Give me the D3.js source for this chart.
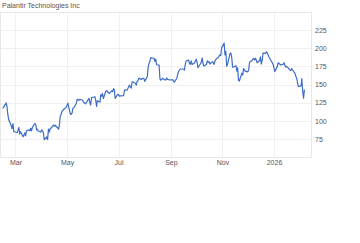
<!DOCTYPE html>
<html>
<head>
<meta charset="utf-8">
<script src="https://cdn.jsdelivr.net/npm/d3@7"></script>
<style>
  body { margin: 0; background: #fff; }
  text { font-family: "Liberation Sans", Arial, sans-serif; }
</style>
</head>
<body>
<svg id="chart"></svg>
<script>
(function() {
  /* Data: daily closes, one row per month */
  var title = "Palantir Technologies Inc";
  var months = ["2025-02", "2025-03", "2025-04", "2025-05", "2025-06", "2025-07",
                "2025-08", "2025-09", "2025-10", "2025-11", "2025-12", "2026-01", "2026-02"];
  var firstDay = { "2025-02": 14 };
  var holidays = ["2025-02-17", "2025-04-18", "2025-05-26", "2025-06-19", "2025-07-04",
                  "2025-09-01", "2025-11-27", "2025-12-25", "2026-01-01", "2026-01-19"];
  var lastDate = "2026-02-06";
  var closes = [
    [117, 124.6, 119, 108, 101.4, 93, 89, 96, 85, 84.8],
    [83.5, 87, 90.9, 81.6, 84.9, 77.8, 80.5, 83.3, 79.2, 86.2, 87.5, 85.9, 89.6, 86.2, 90.9, 96.2, 94.9, 87.4, 88.3, 85.9, 84.4],
    [87.4, 85.9, 83.6, 74, 77.8, 74, 88.6, 84.4, 88.6, 92.6, 93.8, 92.6, 93.8, 88.6, 94.4, 106.6, 108.6, 112.8, 116.9, 117.4, 118.4],
    [121.5, 124.3, 108.9, 108.9, 110.9, 117.4, 117.9, 123.8, 129.6, 128.9, 128.1, 129.5, 128.6, 127, 124.7, 124.6, 123.3, 131, 125.4, 121.6, 131.8],
    [132.7, 133.2, 128, 119.9, 127.7, 125.6, 136.2, 134, 137.4, 130.6, 140.7, 141.4, 140, 137.3, 141.4, 140.2, 144.2, 142.9, 130.7, 136.3],
    [136, 134, 134.4, 134.7, 142.2, 142.9, 142.1, 142.1, 149.2, 146.3, 144.9, 153.5, 153.5, 151.8, 149.1, 154.6, 154.9, 158.8, 157, 158, 158.4, 158.4],
    [154.3, 160.7, 173.3, 179, 181.2, 186.96, 186.2, 186.2, 182, 185, 177.2, 176.7, 157.7, 156, 156.8, 158.7, 156.1, 156.7, 159.1, 156.9, 156.7],
    [156.2, 156.7, 154.9, 153.1, 158.7, 163.6, 168.1, 169.4, 171.4, 171.4, 171, 170, 178, 182.4, 183.6, 178.6, 178, 182.5, 177.6, 179.8, 182.4],
    [184.9, 180.5, 173.1, 178.6, 181.5, 186.6, 178.9, 175.4, 177.5, 182.5, 180.8, 181.6, 178.2, 181.6, 180.3, 177.6, 182.1, 184.6, 187.3, 189.2, 190.8, 189.8, 200.5],
    [207.2, 190.7, 195.6, 175.1, 177.9, 193.2, 193.2, 187, 174, 174, 176, 168.5, 173, 155.7, 154.8, 165.6, 163, 172, 168.5],
    [167.5, 170, 180, 181.8, 181.8, 186, 184, 186, 184, 180, 183, 188, 178, 183, 193.4, 193, 195, 194, 188, 182, 180, 177.75],
    [167.9, 175, 180, 179, 178, 177, 178, 180, 176, 174, 175, 170, 169, 172, 170, 165, 161, 158, 151, 147],
    [148, 158, 140, 131, 143]
  ];
  var yTicks = [75, 100, 125, 150, 175, 200, 225];
  var xTicks = ["2025-03-01", "2025-05-01", "2025-07-01", "2025-09-01", "2025-11-01", "2026-01-01"];
  var xTickLabels = ["Mar", "May", "Jul", "Sep", "Nov", "2026"];

  /* trading days of each month, matched to the closes row */
  var parse = d3.timeParse("%Y-%m-%d");
  var fmt = d3.timeFormat("%Y-%m-%d");
  var points = [];
  months.forEach(function(m, i) {
    var start = parse(m + "-" + (firstDay[m] ? String(firstDay[m]).padStart(2, "0") : "01"));
    var end = d3.timeMonth.offset(d3.timeMonth.floor(start), 1);
    if (end > parse(lastDate)) end = d3.timeDay.offset(parse(lastDate), 1);
    var days = d3.timeDay.range(start, end).filter(function(d) {
      return d.getDay() !== 0 && d.getDay() !== 6 && holidays.indexOf(fmt(d)) < 0;
    });
    closes[i].forEach(function(v, j) {
      if (days[j]) points.push({ date: days[j], value: v });
    });
  });

  /* SVG properties */
  var width = 360, height = 243;
  var plot = { left: 0, right: 312, top: 12, bottom: 157 };
  var svg = d3.select("#chart").attr("width", width).attr("height", height);

  var x = d3.scaleTime()
            .domain([new Date(2025, 1, 10, 16), new Date(2026, 1, 15)])
            .range([plot.left, plot.right]);
  var y = d3.scaleLinear().domain([50, 250]).range([plot.bottom, plot.top]);

  /* grid */
  svg.append("g").selectAll("line").data(yTicks.concat([250]))
     .enter().append("line")
     .attr("x1", plot.left).attr("x2", plot.right)
     .attr("y1", function(d) { return Math.round(y(d)) + 0.5; })
     .attr("y2", function(d) { return Math.round(y(d)) + 0.5; })
     .attr("stroke", "#f0f0f0");
  svg.append("g").selectAll("line").data(xTicks)
     .enter().append("line")
     .attr("x1", function(d) { return Math.round(x(parse(d))) + 0.5; })
     .attr("x2", function(d) { return Math.round(x(parse(d))) + 0.5; })
     .attr("y1", plot.top).attr("y2", plot.bottom)
     .attr("stroke", "#f0f0f0");
  svg.append("rect")
     .attr("x", plot.left + 0.5).attr("y", plot.top + 0.5)
     .attr("width", plot.right - plot.left - 1).attr("height", plot.bottom - plot.top)
     .attr("fill", "none").attr("stroke", "#e8e8e8");

  /* axes */
  var yAxis = svg.append("g")
     .attr("transform", "translate(" + plot.right + ",0)")
     .call(d3.axisRight(y).tickValues(yTicks).tickSize(0).tickPadding(3));
  var xAxis = svg.append("g")
     .attr("transform", "translate(0," + plot.bottom + ")")
     .call(d3.axisBottom(x).tickValues(xTicks.map(parse)).tickSize(0).tickPadding(3)
       .tickFormat(function(d, i) { return xTickLabels[i]; }));
  [yAxis, xAxis].forEach(function(a) {
    a.select(".domain").remove();
    a.selectAll("text").attr("font-size", 7).attr("fill", "#555")
     .attr("font-family", "'Liberation Sans', Arial, sans-serif");
  });

  /* line */
  var line = d3.line()
               .x(function(d) { return x(d.date); })
               .y(function(d) { return y(d.value); });
  svg.append("path").datum(points)
     .attr("d", line)
     .attr("fill", "none")
     .attr("stroke", "#3d6dc6")
     .attr("stroke-width", 1.2)
     .attr("stroke-linejoin", "round");

  /* title */
  svg.append("text").text(title)
     .attr("x", 2).attr("y", 8)
     .attr("font-size", 7).attr("fill", "#555");
})();
</script>
</body>
</html>
